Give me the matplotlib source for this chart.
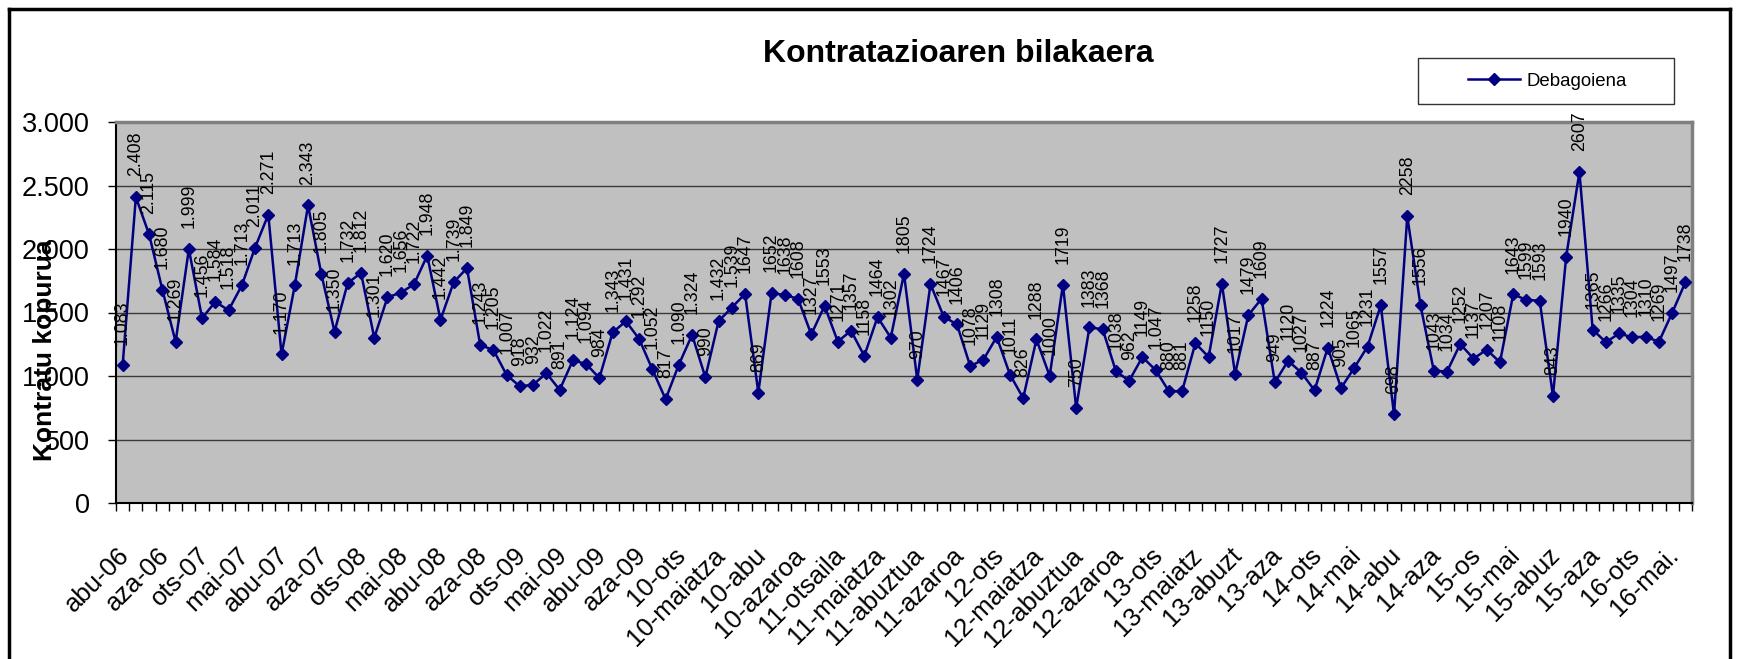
import matplotlib
matplotlib.use('Agg')
import matplotlib.pyplot as plt
from matplotlib.lines import Line2D
from matplotlib.patches import Rectangle
from matplotlib.transforms import ScaledTranslation
import numpy as np

plt.rcParams['font.family'] = ['Liberation Sans', 'DejaVu Sans']

W, H = 1737, 659

title = "Kontratazioaren bilakaera"
ylabel = "Kontratu kopurua"
series_name = "Debagoiena"

values = [1083, 2408, 2115, 1680, 1269, 1999, 1456, 1584, 1518, 1713,
          2011, 2271, 1170, 1713, 2343, 1805, 1350, 1732, 1812, 1301,
          1620, 1656, 1722, 1948, 1442, 1739, 1849, 1243, 1205, 1007,
          918, 932, 1022, 891, 1124, 1094, 984, 1343, 1431, 1292,
          1052, 817, 1090, 1324, 990, 1432, 1539, 1647, 869, 1652,
          1638, 1608, 1327, 1553, 1271, 1357, 1158, 1464, 1302, 1805,
          970, 1724, 1467, 1406, 1078, 1129, 1308, 1011, 826, 1288,
          1000, 1719, 750, 1383, 1368, 1038, 962, 1149, 1047, 880,
          881, 1258, 1150, 1727, 1017, 1479, 1609, 949, 1120, 1027,
          887, 1224, 905, 1065, 1231, 1557, 698, 2258, 1556, 1043,
          1034, 1252, 1137, 1207, 1108, 1643, 1599, 1593, 843, 1940,
          2607, 1365, 1266, 1335, 1304, 1310, 1269, 1497, 1738]

tick_labels = ["abu-06", "aza-06", "ots-07", "mai-07", "abu-07", "aza-07",
               "ots-08", "mai-08", "abu-08", "aza-08", "ots-09", "mai-09",
               "abu-09", "aza-09", "10-ots", "10-maiatza", "10-abu",
               "10-azaroa", "11-otsaila", "11-maiatza", "11-abuztua",
               "11-azaroa", "12-ots", "12-maiatza", "12-abuztua",
               "12-azaroa", "13-ots", "13-maiatz", "13-abuzt", "13-aza",
               "14-ots", "14-mai", "14-abu", "14-aza", "15-os", "15-mai",
               "15-abuz", "15-aza", "16-ots", "16-mai."]
tick_step = 3

# data labels written with a thousands separator in the original
dotted_idx = set(range(47)) | {78}

yticks = [0, 500, 1000, 1500, 2000, 2500, 3000]


def fmt_dot(v):
    return f"{v:,}".replace(",", ".")


fig = plt.figure(figsize=(W / 100, H / 100), dpi=100)
fig.patch.set_facecolor('white')

ax = fig.add_axes([116 / W, 1 - 503 / H, (1692 - 116) / W, (503 - 122) / H])
ax.set_facecolor('#c0c0c0')

x = np.arange(len(values))
ax.plot(x, values, color='#000080', lw=1.8, marker='D', ms=6.5,
        mfc='#000080', mec='#000080', zorder=3, clip_on=False)

ax.set_xlim(-0.5, len(values) - 0.5)
ax.set_ylim(0, 3000)

ax.set_yticks(yticks)
ax.set_yticklabels([fmt_dot(v) for v in yticks], fontsize=19.5)
ax.yaxis.grid(True, color='#3a3a3a', lw=1)
ax.set_axisbelow(True)
ax.tick_params(axis='y', length=6, width=1, pad=13, direction='out')

ax.set_xticks(x[::tick_step])
ax.set_xticklabels(tick_labels, fontsize=18.5)
ax.set_xticks(np.arange(-0.5, len(values)), minor=True)
ax.tick_params(axis='x', which='major', length=0, pad=35)
ax.tick_params(axis='x', which='minor', length=6, width=1, direction='out')
off = ScaledTranslation(3 / 100, 0, fig.dpi_scale_trans)
for lbl in ax.get_xticklabels():
    lbl.set_rotation(45)
    lbl.set_ha('right')
    lbl.set_va('center')
    lbl.set_rotation_mode('anchor')
    lbl.set_transform(lbl.get_transform() + off)

for sp in ('left', 'bottom'):
    ax.spines[sp].set_color('black')
    ax.spines[sp].set_linewidth(1.5)
for sp in ('top', 'right'):
    ax.spines[sp].set_color('#808080')
    ax.spines[sp].set_linewidth(2.5)

for i, v in enumerate(values):
    txt = fmt_dot(v) if i in dotted_idx else str(v)
    ax.annotate(txt, (i, v), xytext=(0, 15), textcoords='offset points',
                rotation=90, ha='center', va='bottom', fontsize=12.8,
                annotation_clip=False, zorder=4)

# titles
fig.text(958 / W, 1 - 54 / H, title, ha='center', va='center',
         fontsize=23, fontweight='bold')
fig.text(45 / W, 1 - 350 / H, ylabel, ha='center', va='center',
         rotation=90, fontsize=19, fontweight='bold')

# legend box
fig.add_artist(Rectangle((1418 / W, 1 - 104 / H), 256 / W, 46 / H,
                         transform=fig.transFigure, facecolor='white',
                         edgecolor='#333333', lw=1))
handle = Line2D([], [], color='#000080', lw=1.8, marker='D', ms=6.5,
                mfc='#000080', mec='#000080')
fig.legend([handle], [series_name], loc='center left',
           bbox_to_anchor=(1468 / W, 1 - 81 / H), frameon=False,
           fontsize=13.4, handlelength=2.8, handletextpad=0.35,
           borderpad=0, borderaxespad=0)

# outer chart frame
fw = 2.5
fig.add_artist(Line2D([9 / W, 9 / W], [0, 1 - 9 / H], transform=fig.transFigure,
                      color='black', lw=fw))
fig.add_artist(Line2D([9 / W, 1730 / W], [1 - 9 / H, 1 - 9 / H],
                      transform=fig.transFigure, color='black', lw=fw))
fig.add_artist(Line2D([1730 / W, 1730 / W], [0, 1 - 9 / H],
                      transform=fig.transFigure, color='black', lw=fw))

fig.savefig('out.png', dpi=100)
